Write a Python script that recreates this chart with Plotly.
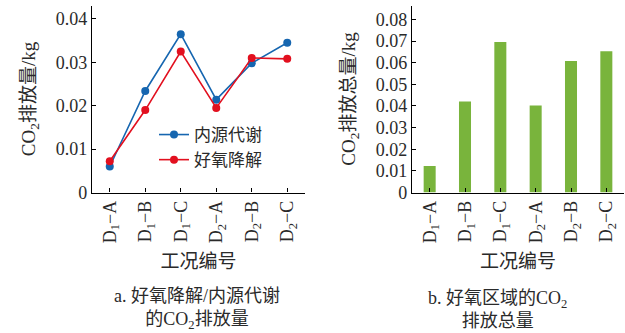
import plotly.graph_objects as go
from plotly.subplots import make_subplots

# Operating conditions (x categories)
conditions = ["D<sub>1</sub>−A", "D<sub>1</sub>−B", "D<sub>1</sub>−C",
              "D<sub>2</sub>−A", "D<sub>2</sub>−B", "D<sub>2</sub>−C"]

# CO2 emission from endogenous metabolism and aerobic degradation (kg)
endogenous = [0.0060, 0.0234, 0.0365, 0.0214, 0.0298, 0.0345]
aerobic = [0.0072, 0.0190, 0.0325, 0.0195, 0.0310, 0.0308]

# Total CO2 emission of the aerobic zone (kg)
total = [0.0123, 0.0420, 0.0695, 0.0402, 0.0607, 0.0653]

left_ticks = [0, 0.01, 0.02, 0.03, 0.04]
left_tick_text = ["0", "0.01", "0.02", "0.03", "0.04"]
right_ticks = [0, 0.01, 0.02, 0.03, 0.04, 0.05, 0.06, 0.07, 0.08]
right_tick_text = ["0", "0.01", "0.02", "0.03", "0.04", "0.05", "0.06", "0.07", "0.08"]

BLUE = "#1666b0"
RED = "#e2101f"
GREEN = "#79b43c"
FONT = "Liberation Serif, Noto Sans CJK SC, serif"
TXT = "#2a2a2a"

W, H = 625, 333

fig = make_subplots(rows=1, cols=2)

fig.add_trace(go.Scatter(x=conditions, y=endogenous, mode="lines+markers",
                         name="内源代谢", line=dict(color=BLUE, width=1.6),
                         marker=dict(color=BLUE, size=8)), row=1, col=1)
fig.add_trace(go.Scatter(x=conditions, y=aerobic, mode="lines+markers",
                         name="好氧降解", line=dict(color=RED, width=1.6),
                         marker=dict(color=RED, size=8)), row=1, col=1)
fig.add_trace(go.Bar(x=conditions, y=total, marker=dict(color=GREEN, line=dict(width=0)),
                     width=0.34, showlegend=False), row=1, col=2)

ydom = [(H - 192.5) / H, (H - 5.5) / H]

axis_common = dict(showline=True, linecolor="black", linewidth=1.2,
                   ticks="inside", ticklen=4, tickcolor="black",
                   showgrid=False, zeroline=False, automargin=False,
                   tickfont=dict(family=FONT, size=18, color=TXT))

fig.update_xaxes(**axis_common, tickangle=-90, range=[-0.5, 5.5],
                 title=dict(text="工况编号", font=dict(family=FONT, size=19, color=TXT), standoff=12))
fig.update_yaxes(**axis_common)

fig.update_layout(
    width=W, height=H,
    margin=dict(l=0, r=0, t=0, b=0),
    paper_bgcolor="white", plot_bgcolor="white",
    showlegend=True,
    xaxis=dict(domain=[92 / W, 305 / W]),
    xaxis2=dict(domain=[412 / W, 624 / W]),
    yaxis=dict(domain=ydom, range=[0, 0.0431], tickvals=left_ticks, ticktext=left_tick_text,
               title=dict(text="CO<sub>2</sub>排放量/kg", font=dict(family=FONT, size=19, color=TXT), standoff=15)),
    yaxis2=dict(domain=ydom, range=[0, 0.0864], tickvals=right_ticks, ticktext=right_tick_text,
                title=dict(text="CO<sub>2</sub>排放总量/kg", font=dict(family=FONT, size=19, color=TXT), standoff=15)),
    legend=dict(x=154 / W, y=(H - 117) / H, xanchor="left", yanchor="top",
                bgcolor="rgba(0,0,0,0)", borderwidth=0, tracegroupgap=0,
                font=dict(family=FONT, size=17, color=TXT), itemwidth=30),
    annotations=[
        dict(text="a. 好氧降解/内源代谢<br>的CO<sub>2</sub>排放量", x=197 / W, y=(H - 309) / H,
             xref="paper", yref="paper", showarrow=False, xanchor="center", yanchor="middle",
             font=dict(family=FONT, size=18, color=TXT)),
        dict(text="b. 好氧区域的CO<sub>2</sub><br>排放总量", x=498 / W, y=(H - 309) / H,
             xref="paper", yref="paper", showarrow=False, xanchor="center", yanchor="middle",
             font=dict(family=FONT, size=18, color=TXT)),
    ],
)

fig.write_html("out.html")
